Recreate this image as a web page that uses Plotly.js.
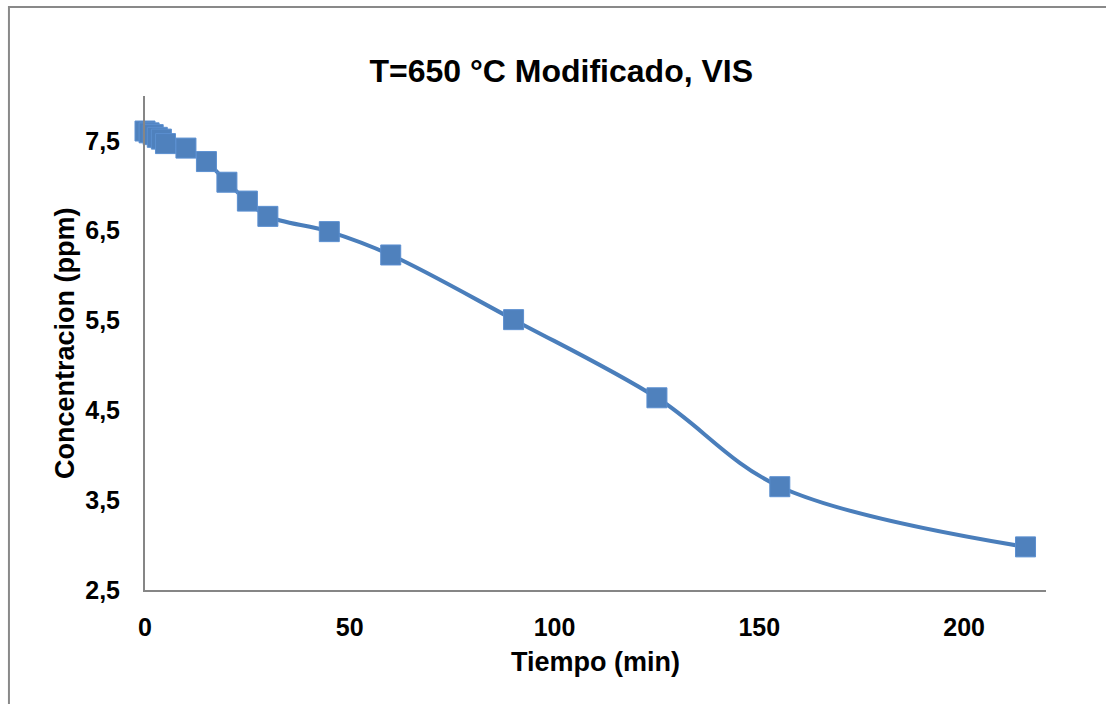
<!DOCTYPE html>
<html>
<head>
<meta charset="utf-8">
<script src="https://cdn.plot.ly/plotly-3.0.1.min.js"></script>
<style>html,body{margin:0;padding:0;background:#fff}#chart{width:1106px;height:704px}</style>
</head>
<body>
<div id="chart"></div>
<script>
const tiempo = [0, 1, 2, 3, 4, 5, 10, 15, 20, 25, 30, 45, 60, 90, 125, 155, 215];
const concentracion = [7.61, 7.59, 7.57, 7.54, 7.52, 7.47, 7.42, 7.27, 7.04, 6.83, 6.66, 6.49, 6.23, 5.51, 4.64, 3.65, 2.98];
const yTicks = [2.5, 3.5, 4.5, 5.5, 6.5, 7.5];
const yTickText = ["2,5", "3,5", "4,5", "5,5", "6,5", "7,5"];
const xTicks = [0, 50, 100, 150, 200];

const font = "Liberation Sans, Arial, sans-serif";
Plotly.newPlot('chart', [{
  x: tiempo, y: concentracion, type: 'scatter', mode: 'lines+markers',
  line: {color: '#4a7ebb', width: 4, shape: 'spline', smoothing: 1},
  marker: {symbol: 'square', size: 20, color: '#4f81bd', line: {color: '#5b8fd0', width: 1}},
  cliponaxis: false, showlegend: false
}], {
  width: 1106, height: 704,
  margin: {l: 145, r: 60, t: 96, b: 114},
  paper_bgcolor: '#fff', plot_bgcolor: '#fff',
  title: {text: '<b>T=650 °C Modificado, VIS</b>', x: 0.462, xref: 'paper', xanchor: 'center', y: 0.9, yref: 'container', yanchor: 'middle',
          font: {family: font, size: 32, color: '#000'}},
  xaxis: {range: [0, 220], tickvals: xTicks, ticktext: xTicks.map(String), showgrid: false, zeroline: false,
          showline: true, linecolor: '#868686', linewidth: 2, ticks: '', ticklabelstandoff: 14,
          tickfont: {family: font, size: 25, color: '#000', weight: 'bold'}},
  yaxis: {range: [2.5, 8.0], tickvals: yTicks, ticktext: yTickText, showgrid: false, zeroline: false,
          showline: true, linecolor: '#868686', linewidth: 2, ticks: '', ticklabelstandoff: 18,
          tickfont: {family: font, size: 25, color: '#000', weight: 'bold'}},
  annotations: [
    {text: '<b>Tiempo (min)</b>', xref: 'paper', yref: 'paper', x: 0.5, y: -0.1457, xanchor: 'center', yanchor: 'middle',
     showarrow: false, font: {family: font, size: 27, color: '#000'}},
    {text: '<b>Concentracion (ppm)</b>', xref: 'paper', yref: 'paper', x: -0.0888, y: 0.5, xanchor: 'center', yanchor: 'middle',
     textangle: -90, showarrow: false, font: {family: font, size: 27, color: '#000'}}
  ],
  shapes: [{type: 'rect', xref: 'paper', yref: 'paper', x0: -0.151, x1: 1.3, y0: -0.4, y1: 1.180,
            line: {color: '#898989', width: 2}, fillcolor: 'rgba(0,0,0,0)', layer: 'below'}]
}, {displayModeBar: false, staticPlot: true});
</script>
</body>
</html>
